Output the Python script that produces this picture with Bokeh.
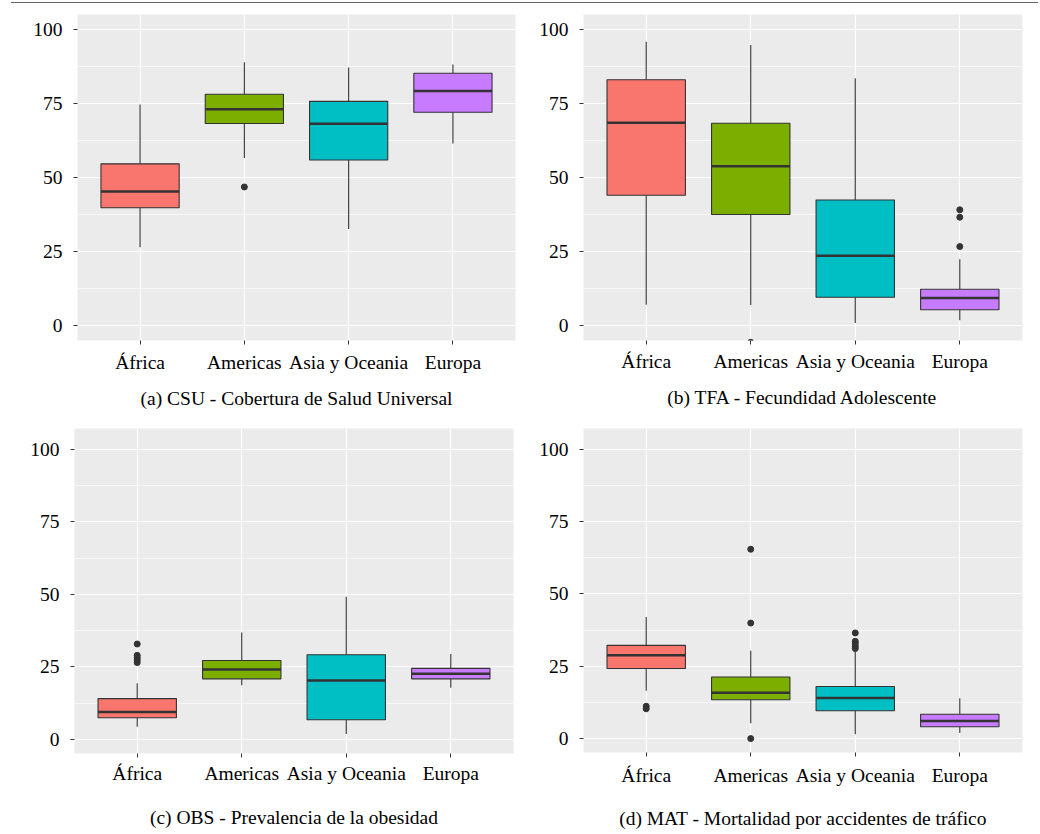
from bokeh.plotting import figure
from bokeh.models import FactorRange, Range1d, FixedTicker, Div, ColumnDataSource
from bokeh.layouts import column, row
from bokeh.embed import file_html
from bokeh.resources import INLINE

categories = ["África", "Americas", "Asia y Oceania", "Europa"]
colors = ["#F8766D", "#7CAE00", "#00BFC4", "#C77CFF"]
y_ticks = [0, 25, 50, 75, 100]
y_minor = [12.5, 37.5, 62.5, 87.5]

# (a) CSU - Cobertura de Salud Universal
csu_low = [26.5, 56.6, 32.6, 61.5]
csu_q1 = [39.8, 68.2, 55.9, 72.0]
csu_med = [45.3, 73.0, 68.1, 79.2]
csu_q3 = [54.6, 78.1, 75.7, 85.2]
csu_up = [74.6, 88.9, 87.1, 88.1]
csu_out_cat = ["Americas"]
csu_out_val = [46.8]

# (b) TFA - Fecundidad Adolescente
tfa_low = [7.1, 7.0, 0.9, 1.8]
tfa_q1 = [44.0, 37.5, 9.6, 5.4]
tfa_med = [68.5, 53.8, 23.6, 9.3]
tfa_q3 = [83.0, 68.3, 42.4, 12.3]
tfa_up = [95.8, 94.7, 83.5, 22.4]
tfa_out_cat = ["Americas", "Europa", "Europa", "Europa"]
tfa_out_val = [-5.6, 39.1, 36.6, 26.7]

# (c) OBS - Prevalencia de la obesidad
obs_low = [4.4, 18.7, 1.9, 17.8]
obs_q1 = [7.5, 20.9, 6.8, 20.9]
obs_med = [9.5, 24.1, 20.3, 22.7]
obs_q3 = [14.1, 27.2, 29.2, 24.5]
obs_up = [19.4, 36.9, 49.2, 29.5]
obs_out_cat = ["África", "África", "África", "África", "África"]
obs_out_val = [32.9, 29.0, 28.2, 27.4, 26.5]

# (d) MAT - Mortalidad por accidentes de tráfico
mat_low = [16.5, 5.3, 1.5, 1.9]
mat_q1 = [24.2, 13.4, 9.6, 4.1]
mat_med = [28.8, 15.8, 14.0, 6.1]
mat_q3 = [32.2, 21.3, 18.0, 8.4]
mat_up = [42.0, 30.3, 30.0, 13.9]
mat_out_cat = ["África", "África", "Americas", "Americas", "Americas",
               "Asia y Oceania", "Asia y Oceania", "Asia y Oceania", "Asia y Oceania", "Asia y Oceania"]
mat_out_val = [11.2, 10.3, 65.4, 39.9, 0.0, 36.5, 33.6, 32.8, 31.9, 31.1]

captions = [
    "(a) CSU - Cobertura de Salud Universal",
    "(b) TFA - Fecundidad Adolescente",
    "(c) OBS - Prevalencia de la obesidad",
    "(d) MAT - Mortalidad por accidentes de tráfico",
]

FONT = "Liberation Serif"
FSIZE = "19.5px"
DARK = "#333333"
BOX_W = 0.75


def make_panel(caption, low, q1, med, q3, up, out_cat, out_val, yr,
               frame_w, frame_h, bl, br, bt, bb, lab_standoff, cap_standoff):
    p = figure(x_range=FactorRange(factors=categories, range_padding=0.05),
               y_range=Range1d(*yr), frame_width=frame_w, frame_height=frame_h,
               min_border_left=bl, min_border_right=br, min_border_top=bt,
               min_border_bottom=bb, output_backend="svg", toolbar_location=None)
    p.background_fill_color = "#EBEBEB"
    p.border_fill_color = "white"
    p.outline_line_color = None

    src = ColumnDataSource(dict(cat=categories, low=low, q1=q1, med=med, q3=q3,
                                up=up, color=colors,
                                left=[(c, -BOX_W / 2) for c in categories],
                                right=[(c, BOX_W / 2) for c in categories]))
    p.segment(x0="cat", y0="q3", x1="cat", y1="up", source=src,
              line_color=DARK, line_width=1.1)
    p.segment(x0="cat", y0="low", x1="cat", y1="q1", source=src,
              line_color=DARK, line_width=1.1)
    p.vbar(x="cat", bottom="q1", top="q3", width=BOX_W, source=src,
           fill_color="color", line_color=DARK, line_width=1.1)
    p.segment(x0="left", y0="med", x1="right", y1="med", source=src,
              line_color=DARK, line_width=2.5)
    p.scatter(x=out_cat, y=out_val, size=6, color=DARK)

    p.yaxis.ticker = FixedTicker(ticks=y_ticks, minor_ticks=y_minor)
    for ax in (p.xaxis[0], p.yaxis[0]):
        ax.axis_line_color = None
        ax.major_tick_line_color = DARK
        ax.major_tick_line_width = 1
        ax.major_tick_out = 4
        ax.major_tick_in = 0
        ax.minor_tick_line_color = None
        ax.major_label_text_font = FONT
        ax.major_label_text_font_size = FSIZE
        ax.major_label_text_color = "black"
    p.yaxis.major_label_standoff = 11
    p.xaxis.major_label_standoff = lab_standoff
    p.xaxis.axis_label = caption
    p.xaxis.axis_label_text_font = FONT
    p.xaxis.axis_label_text_font_size = FSIZE
    p.xaxis.axis_label_text_font_style = "normal"
    p.xaxis.axis_label_text_color = "black"
    p.xaxis.axis_label_standoff = cap_standoff

    p.xgrid.grid_line_color = "white"
    p.xgrid.grid_line_width = 1.2
    p.ygrid.grid_line_color = "white"
    p.ygrid.grid_line_width = 1.2
    p.ygrid.minor_grid_line_color = "white"
    p.ygrid.minor_grid_line_width = 0.6
    return p


pa = make_panel(captions[0], csu_low, csu_q1, csu_med, csu_q3, csu_up,
                csu_out_cat, csu_out_val, (-5, 105), 438, 326, 77, 5, 10, 76, 7, 12)
pb = make_panel(captions[1], tfa_low, tfa_q1, tfa_med, tfa_q3, tfa_up,
                tfa_out_cat, tfa_out_val, (-5, 105), 439, 326, 63, 16, 11, 75, 6, 12)
pc = make_panel(captions[2], obs_low, obs_q1, obs_med, obs_q3, obs_up,
                obs_out_cat, obs_out_val, (-4.8, 107.1), 439, 325, 74, 7, 12, 74, 5, 20)
pd = make_panel(captions[3], mat_low, mat_q1, mat_med, mat_q3, mat_up,
                mat_out_cat, mat_out_val, (-4.8, 107.1), 439, 324, 63, 16, 13, 74, 8, 19)

line = Div(text="", width=1027, height=1, margin=(2, 0, 0, 11),
           styles={"background-color": "#666666"})

layout = column(line, row(pa, pb), row(pc, pd))

open("out.html", "w").write(file_html(layout, INLINE))
